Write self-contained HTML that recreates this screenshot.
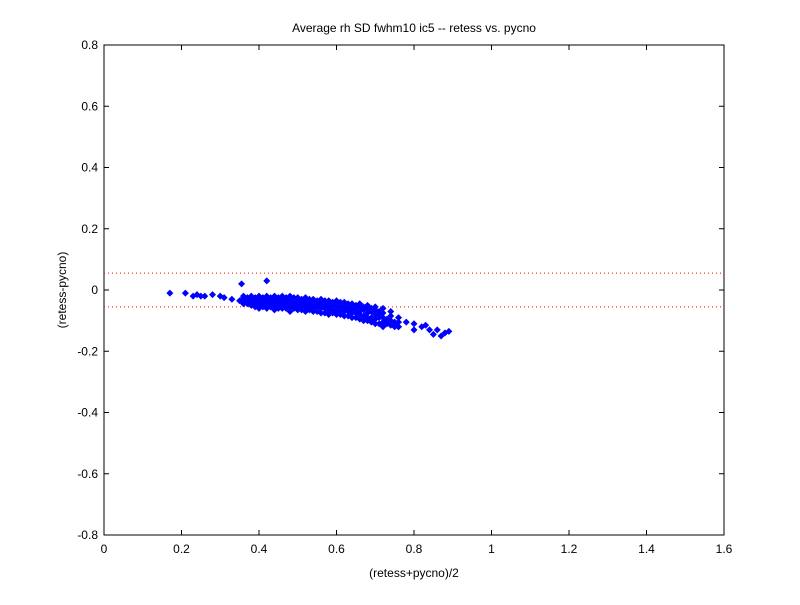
<!DOCTYPE html>
<html><head><meta charset="utf-8"><style>
body{margin:0;background:#fff;}
svg text{font-family:"Liberation Sans",sans-serif;font-size:12px;fill:#000;}
</style></head><body>
<svg id="chart" width="800" height="600" xmlns="http://www.w3.org/2000/svg">
<rect width="800" height="600" fill="#fff"/>
<g id="plot"></g>
</svg>
<script>
const meanValues = [0.17,0.21,0.23,0.24,0.25,0.26,0.28,0.30,0.31,0.33,0.355,0.42,0.35,0.78,0.80,0.82,0.84,0.86,0.87,0.88,0.89,0.85,0.80,0.76,0.83,
0.36,0.36,0.36,0.36, 0.38,0.38,0.38,0.38,0.38, 0.40,0.40,0.40,0.40,0.40, 0.42,0.42,0.42,0.42,0.42, 0.44,0.44,0.44,0.44,0.44,
0.46,0.46,0.46,0.46,0.46, 0.48,0.48,0.48,0.48,0.48, 0.50,0.50,0.50,0.50,0.50, 0.52,0.52,0.52,0.52,0.52, 0.54,0.54,0.54,0.54,0.54,
0.56,0.56,0.56,0.56,0.56, 0.58,0.58,0.58,0.58,0.58, 0.60,0.60,0.60,0.60,0.60, 0.62,0.62,0.62,0.62,0.62, 0.64,0.64,0.64,0.64,0.64,
0.66,0.66,0.66,0.66,0.66, 0.68,0.68,0.68,0.68,0.68, 0.70,0.70,0.70,0.70,0.70, 0.72,0.72,0.72,0.72,0.72, 0.74,0.74,0.74,0.74, 0.76,0.76,0.76,
0.37,0.37,0.37,0.37, 0.39,0.39,0.39,0.39, 0.41,0.41,0.41,0.41, 0.43,0.43,0.43,0.43, 0.45,0.45,0.45,0.45, 0.47,0.47,0.47,0.47,
0.49,0.49,0.49,0.49, 0.51,0.51,0.51,0.51, 0.53,0.53,0.53,0.53, 0.55,0.55,0.55,0.55, 0.57,0.57,0.57,0.57, 0.59,0.59,0.59,0.59,
0.61,0.61,0.61,0.61, 0.63,0.63,0.63,0.63, 0.65,0.65,0.65,0.65, 0.67,0.67,0.67,0.67, 0.69,0.69,0.69,0.69, 0.71,0.71,0.71,0.71,
0.73,0.73,0.73, 0.75,0.75,0.75, 0.77,0.77, 0.79,0.81];
const diffValues = [-0.01,-0.01,-0.02,-0.015,-0.02,-0.02,-0.015,-0.02,-0.025,-0.03,0.02,0.03,-0.035,-0.105,-0.11,-0.12,-0.13,-0.13,-0.15,-0.14,-0.135,-0.145,-0.13,-0.12,-0.115,
-0.025,-0.035,-0.045,-0.02, -0.02,-0.03,-0.04,-0.05,-0.035, -0.02,-0.03,-0.04,-0.05,-0.06, -0.02,-0.03,-0.04,-0.05,-0.06, -0.02,-0.03,-0.04,-0.05,-0.065,
-0.02,-0.03,-0.04,-0.05,-0.06, -0.02,-0.03,-0.045,-0.055,-0.07, -0.025,-0.035,-0.045,-0.055,-0.065, -0.025,-0.035,-0.045,-0.055,-0.07, -0.03,-0.04,-0.05,-0.06,-0.07,
-0.03,-0.04,-0.05,-0.06,-0.075, -0.035,-0.045,-0.055,-0.065,-0.08, -0.035,-0.045,-0.055,-0.07,-0.08, -0.04,-0.05,-0.06,-0.07,-0.085, -0.045,-0.055,-0.065,-0.075,-0.09,
-0.045,-0.055,-0.07,-0.08,-0.095, -0.05,-0.06,-0.075,-0.09,-0.1, -0.055,-0.065,-0.08,-0.095,-0.11, -0.06,-0.075,-0.09,-0.105,-0.12, -0.07,-0.085,-0.1,-0.115, -0.09,-0.105,-0.12,
-0.025,-0.035,-0.045,-0.03, -0.025,-0.035,-0.045,-0.055, -0.025,-0.035,-0.045,-0.055, -0.025,-0.035,-0.045,-0.055, -0.025,-0.035,-0.045,-0.06,
-0.025,-0.035,-0.045,-0.06, -0.025,-0.04,-0.05,-0.06, -0.03,-0.04,-0.05,-0.065, -0.03,-0.045,-0.055,-0.065, -0.035,-0.045,-0.055,-0.07, -0.035,-0.05,-0.06,-0.075,
-0.04,-0.05,-0.065,-0.075, -0.04,-0.055,-0.065,-0.08, -0.045,-0.06,-0.07,-0.085, -0.05,-0.06,-0.075,-0.09, -0.055,-0.065,-0.085,-0.1, -0.06,-0.07,-0.09,-0.105,
-0.07,-0.09,-0.11, -0.08,-0.095,-0.11, -0.1,-0.115, -0.105,-0.12];
const limitValues = [0.055,-0.055];
const xTicks = [0,0.2,0.4,0.6,0.8,1,1.2,1.4,1.6];
const yTicks = [-0.8,-0.6,-0.4,-0.2,0,0.2,0.4,0.6,0.8];

const L=104,R=724,T=45,B=535;
const sx=v=>L+(v-0)/(1.6-0)*(R-L);
const sy=v=>B-(v+0.8)/1.6*(B-T);
const NS="http://www.w3.org/2000/svg";
const g=document.getElementById('plot');
function mk(tag,attrs,txt){const e=document.createElementNS(NS,tag);for(const k in attrs)e.setAttribute(k,attrs[k]);if(txt!==undefined)e.textContent=txt;g.appendChild(e);return e;}

let e=mk('rect',{x:L,y:T,width:R-L,height:B-T,fill:'#fff',stroke:'#000','stroke-width':1});



xTicks.forEach(t=>{const x=sx(t);
 let a=mk('line',{x1:x,x2:x,y1:B,y2:B-5,stroke:'#000'});
 
 
 let b=mk('line',{x1:x,x2:x,y1:T,y2:T+5,stroke:'#000'});
 
 
 let l=mk('text',{x:x,y:B+18,'text-anchor':'middle'},String(t));
 
 
});
yTicks.forEach(t=>{const y=sy(t);
 let a=mk('line',{x1:L,x2:L+5,y1:y,y2:y,stroke:'#000'});
 
 
 let b=mk('line',{x1:R,x2:R-5,y1:y,y2:y,stroke:'#000'});
 
 
 let l=mk('text',{x:L-6,y:y+4,'text-anchor':'end'},String(t));
 
 
});
limitValues.forEach(v=>{
 let a=mk('line',{x1:L,x2:R,y1:sy(v),y2:sy(v),stroke:'#f00','stroke-dasharray':'1 3'});
 
 
});
meanValues.forEach((m,i)=>{const x=sx(m),y=sy(diffValues[i]);
 let p=mk('path',{d:`M${x-3.5},${y}L${x},${y-3.5}L${x+3.5},${y}L${x},${y+3.5}Z`,fill:'#00f'});
 
 
});
let t=mk('text',{x:414,y:32,'text-anchor':'middle'},'Average rh SD fwhm10 ic5 -- retess vs. pycno');


let xl=mk('text',{x:414,y:577,'text-anchor':'middle'},'(retess+pycno)/2');


let yl=mk('text',{x:66,y:290,'text-anchor':'middle',transform:'rotate(-90 66 290)'},'(retess-pycno)');


</script>
</body></html>
